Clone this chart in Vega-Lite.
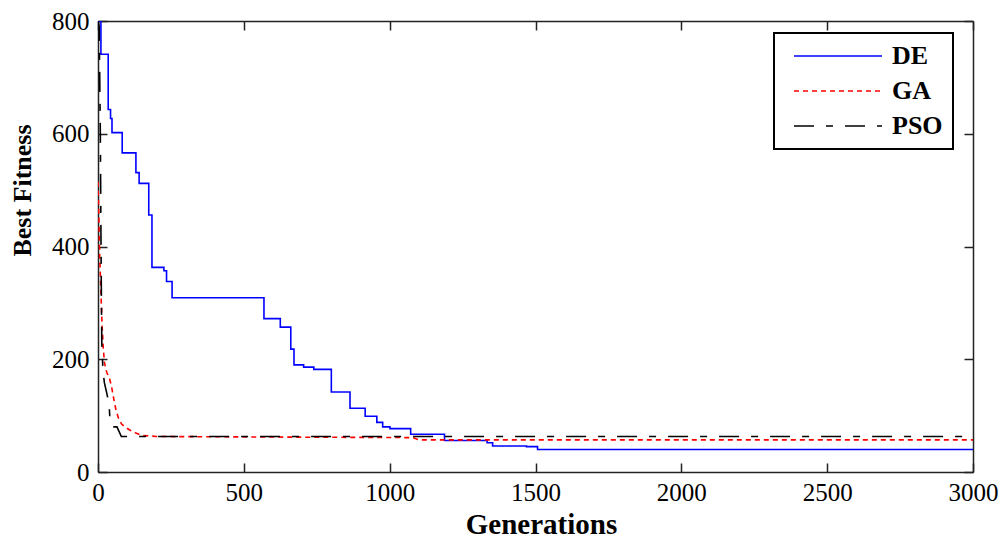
{
  "$schema": "https://vega.github.io/schema/vega-lite/v6.json",
  "width": 875,
  "height": 451,
  "autosize": "none",
  "padding": {"left": 98, "top": 21, "right": 33, "bottom": 66},
  "background": "white",
  "config": {
    "view": {"stroke": null},
    "font": "Liberation Serif",
    "axis": {
      "grid": false,
      "domainColor": "#222222",
      "domainWidth": 1.5,
      "tickColor": "#222222",
      "tickWidth": 1.5,
      "tickSize": -9,
      "labelFont": "Liberation Serif",
      "labelColor": "black",
      "titleFont": "Liberation Serif",
      "titleColor": "black",
      "titleFontWeight": "bold"
    }
  },
  "data": {
    "values": [
      {"s": "DE", "g": 0, "v": 800}, {"s": "DE", "g": 10, "v": 741}, {"s": "DE", "g": 35, "v": 643},
      {"s": "DE", "g": 43, "v": 627}, {"s": "DE", "g": 48, "v": 602}, {"s": "DE", "g": 83, "v": 566},
      {"s": "DE", "g": 130, "v": 531}, {"s": "DE", "g": 141, "v": 512}, {"s": "DE", "g": 174, "v": 456},
      {"s": "DE", "g": 185, "v": 363}, {"s": "DE", "g": 226, "v": 357}, {"s": "DE", "g": 235, "v": 338},
      {"s": "DE", "g": 254, "v": 309}, {"s": "DE", "g": 569, "v": 272}, {"s": "DE", "g": 625, "v": 257},
      {"s": "DE", "g": 661, "v": 218}, {"s": "DE", "g": 672, "v": 190}, {"s": "DE", "g": 705, "v": 186},
      {"s": "DE", "g": 740, "v": 182}, {"s": "DE", "g": 800, "v": 142}, {"s": "DE", "g": 864, "v": 113},
      {"s": "DE", "g": 916, "v": 99}, {"s": "DE", "g": 956, "v": 88}, {"s": "DE", "g": 976, "v": 80},
      {"s": "DE", "g": 1001, "v": 77}, {"s": "DE", "g": 1072, "v": 67}, {"s": "DE", "g": 1188, "v": 56},
      {"s": "DE", "g": 1334, "v": 52}, {"s": "DE", "g": 1353, "v": 46}, {"s": "DE", "g": 1469, "v": 45},
      {"s": "DE", "g": 1507, "v": 40}, {"s": "DE", "g": 3000, "v": 40},
      {"s": "GA", "g": 0, "v": 515}, {"s": "GA", "g": 3, "v": 450}, {"s": "GA", "g": 6, "v": 380},
      {"s": "GA", "g": 10, "v": 320}, {"s": "GA", "g": 14, "v": 260}, {"s": "GA", "g": 18, "v": 220},
      {"s": "GA", "g": 22, "v": 195}, {"s": "GA", "g": 27, "v": 182}, {"s": "GA", "g": 30, "v": 177},
      {"s": "GA", "g": 40, "v": 165}, {"s": "GA", "g": 47, "v": 150}, {"s": "GA", "g": 55, "v": 127},
      {"s": "GA", "g": 62, "v": 109}, {"s": "GA", "g": 70, "v": 96}, {"s": "GA", "g": 81, "v": 85},
      {"s": "GA", "g": 95, "v": 79}, {"s": "GA", "g": 110, "v": 74}, {"s": "GA", "g": 130, "v": 69},
      {"s": "GA", "g": 150, "v": 65}, {"s": "GA", "g": 200, "v": 63}, {"s": "GA", "g": 600, "v": 62},
      {"s": "GA", "g": 1080, "v": 61}, {"s": "GA", "g": 1100, "v": 57}, {"s": "GA", "g": 3000, "v": 57},
      {"s": "PSO", "g": 0, "v": 800}, {"s": "PSO", "g": 4, "v": 790}, {"s": "PSO", "g": 8, "v": 600},
      {"s": "PSO", "g": 11, "v": 350}, {"s": "PSO", "g": 13, "v": 230}, {"s": "PSO", "g": 17, "v": 180},
      {"s": "PSO", "g": 22, "v": 158}, {"s": "PSO", "g": 30, "v": 140}, {"s": "PSO", "g": 38, "v": 120},
      {"s": "PSO", "g": 42, "v": 85}, {"s": "PSO", "g": 52, "v": 80}, {"s": "PSO", "g": 65, "v": 80},
      {"s": "PSO", "g": 80, "v": 63}, {"s": "PSO", "g": 3000, "v": 63}
    ]
  },
  "layer": [
    {
      "transform": [{"filter": "datum.s === 'DE'"}],
      "mark": {"type": "line", "interpolate": "step-after", "strokeWidth": 1.6, "clip": true},
      "encoding": {
        "x": {
          "field": "g", "type": "quantitative",
          "scale": {"domain": [0, 3000], "nice": false, "zero": true},
          "axis": {
            "orient": "bottom", "values": [0, 500, 1000, 1500, 2000, 2500, 3000], "format": "d",
            "title": "Generations", "titleFontSize": 29, "titleBaseline": "alphabetic",
            "titleX": 443, "titleY": 61, "titleAlign": "center",
            "labelFontSize": 25, "labelPadding": 17, "labelFlush": false
          }
        },
        "y": {
          "field": "v", "type": "quantitative",
          "scale": {"domain": [0, 800], "nice": false},
          "axis": {
            "orient": "left", "values": [0, 200, 400, 600, 800], "format": "d",
            "title": "Best Fitness", "titleFontSize": 26, "titleBaseline": "middle",
            "titleX": -76, "titleY": 169, "titleAngle": -90, "titleAlign": "center",
            "labelFontSize": 25, "labelPadding": 18, "labelFlush": false
          }
        },
        "color": {
          "field": "s", "type": "nominal",
          "scale": {"domain": ["DE", "GA", "PSO"], "range": ["#0000ff", "#ff0000", "#000000"]},
          "legend": {
            "title": null, "orient": "none", "legendX": 676, "legendY": 12,
            "padding": 10, "strokeColor": "black", "fillColor": "white",
            "symbolType": "M-0.273,0H7.727", "symbolSize": 484, "symbolStrokeWidth": 1.5,
            "symbolFillColor": "transparent",
            "labelFont": "Liberation Serif", "labelFontWeight": "bold", "labelFontSize": 26,
            "labelColor": "black", "labelOffset": 82, "rowPadding": 9, "labelLimit": 200,
            "encode": {"legend": {"update": {"strokeWidth": {"value": 2}}}}
          }
        },
        "strokeDash": {
          "field": "s", "type": "nominal",
          "scale": {"domain": ["DE", "GA", "PSO"], "range": [[1, 0], [5, 4], [20, 12, 7, 12]]},
          "legend": null
        }
      }
    },
    {
      "transform": [{"filter": "datum.s !== 'DE'"}],
      "mark": {"type": "line", "strokeWidth": 1.6, "clip": true},
      "encoding": {
        "x": {
          "field": "g", "type": "quantitative",
          "scale": {"domain": [0, 3000], "nice": false, "zero": true},
          "axis": {"orient": "top", "values": [0, 500, 1000, 1500, 2000, 2500, 3000], "labels": false, "title": null}
        },
        "y": {
          "field": "v", "type": "quantitative",
          "scale": {"domain": [0, 800], "nice": false},
          "axis": {"orient": "right", "values": [0, 200, 400, 600, 800], "labels": false, "title": null}
        },
        "color": {"field": "s", "type": "nominal", "scale": {"domain": ["DE", "GA", "PSO"], "range": ["#0000ff", "#ff0000", "#000000"]}},
        "strokeDash": {
          "field": "s", "type": "nominal",
          "scale": {"domain": ["DE", "GA", "PSO"], "range": [[1, 0], [5, 4], [20, 12, 7, 12]]},
          "legend": null
        }
      }
    }
  ],
  "resolve": {"axis": {"x": "independent", "y": "independent"}}
}
